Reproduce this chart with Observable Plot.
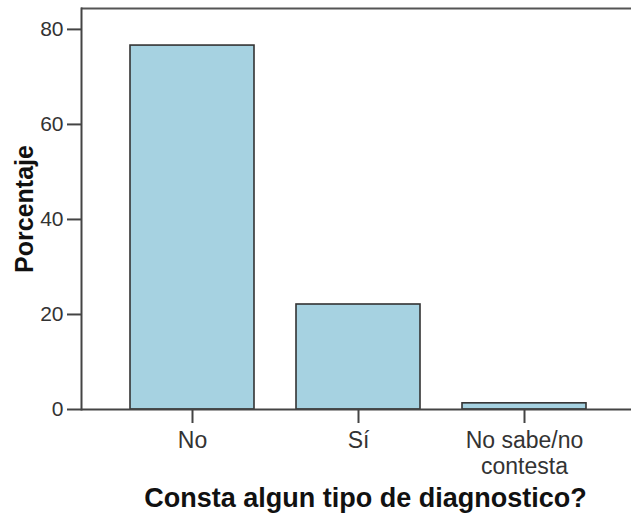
<!DOCTYPE html>
<html>
<head>
<meta charset="utf-8">
<script src="https://cdn.jsdelivr.net/npm/d3@7"></script>
<script src="https://cdn.jsdelivr.net/npm/@observablehq/plot@0.6"></script>
<style>
  html, body { margin: 0; padding: 0; background: #fff; }
  #chart svg { display: block; }
</style>
</head>
<body>
<div id="chart"></div>
<script>
const categories = ["No", "Sí", "No sabe/no\ncontesta"];
const percentages = [76.6, 22.1, 1.3];
const yTicks = [0, 20, 40, 60, 80];
const yLabel = "Porcentaje";
const xTitle = "Consta algun tipo de diagnostico?";
const yMax = 84.4;

const data = categories.map((c, i) => ({category: c, value: percentages[i]}));

const chart = Plot.plot({
  width: 631,
  height: 518,
  marginLeft: 81,
  marginRight: 0,
  marginTop: 8,
  marginBottom: 109,
  style: {fontFamily: "'Liberation Sans', Arial, sans-serif", background: "#fff"},
  x: {domain: categories, paddingInner: 0.253, paddingOuter: 0.283, align: 0.52, label: null},
  y: {domain: [0, yMax], label: null},
  marks: [
    Plot.barY(data, {x: "category", y: "value", fill: "#a6d2e1", stroke: "#333", strokeWidth: 1.6}),
    Plot.ruleY([0], {stroke: "#444", strokeWidth: 2}),
    Plot.ruleY([yMax], {stroke: "#555", strokeWidth: 2}),
    Plot.frame({anchor: "left", stroke: "#444", strokeWidth: 2}),
    Plot.axisY({ticks: yTicks, tickSize: 14, tickPadding: 4, fontSize: 21, label: null, stroke: "#444", strokeWidth: 2, color: "#333"}),
    Plot.axisX({tickSize: 14, tickPadding: 7, fontSize: 23, label: null, stroke: "#444", strokeWidth: 2, color: "#333", lineHeight: 1.1, letterSpacing: 1.5}),
    Plot.text([yLabel], {frameAnchor: "left", rotate: -90, dx: -57, fontSize: 25, fontWeight: "bold", fill: "#111", textAnchor: "middle", lineAnchor: "middle"}),
    Plot.text([xTitle], {frameAnchor: "bottom", dy: 89, dx: 9, fontSize: 27, fontWeight: "bold", fill: "#111", textAnchor: "middle", lineAnchor: "middle"})
  ]
});
document.getElementById("chart").appendChild(chart);
</script>
</body>
</html>
